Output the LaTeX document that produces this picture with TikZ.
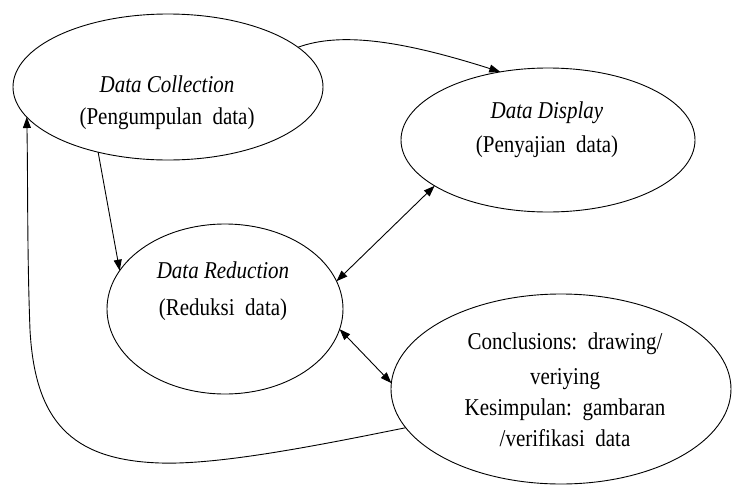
\documentclass[tikz,border=0pt]{standalone}
\usepackage{fontspec}
\setmainfont{Liberation Serif}
\usetikzlibrary{shapes.geometric,arrows.meta}
% slightly tall lettering used in the labels
\newcommand\tallword[1]{\scalebox{1}[1.15]{#1}}
\begin{document}
\begin{tikzpicture}[x=1pt,y=-1pt,
  stage/.style={ellipse,draw,line width=0.9pt,inner sep=0pt,outer sep=0pt},
  txt/.style={anchor=base,inner sep=0pt,font=\fontsize{21}{32}\selectfont},
  flow/.style={line width=0.9pt,-{Triangle[length=11pt,width=8pt]}},
  both/.style={line width=0.9pt,{Triangle[length=11pt,width=8pt]}-{Triangle[length=11pt,width=8pt]}}]
\useasboundingbox (0,0) rectangle (732,485);

% the four stages of the analysis
\node[stage,minimum width=310pt,minimum height=146pt] (collect) at (168,87) {};
\node[stage,minimum width=294pt,minimum height=144pt] (display) at (548,140) {};
\node[stage,minimum width=236pt,minimum height=170pt] (reduce) at (225,309) {};
\node[stage,minimum width=340pt,minimum height=190pt] (concl) at (561,389) {};

% labels
\node[txt] (c1) at (167,92) {\tallword{\itshape Data Collection}};
\node[txt] (c2) at (167,124) {\tallword{(Pengumpulan\ \ data)}};
\node[txt] (d1) at (547,118) {\tallword{\itshape Data Display}};
\node[txt] (d2) at (547,152) {\tallword{(Penyajian\ \ data)}};
\node[txt] (r1) at (223,278) {\tallword{\itshape Data Reduction}};
\node[txt] (r2) at (223,315) {\tallword{(Reduksi\ \ data)}};
\node[txt] (k1) at (565,349) {\tallword{Conclusions:\ \ drawing/}};
\node[txt] (k2) at (565,384) {\tallword{veriying}};
\node[txt] (k3) at (565,415) {\tallword{Kesimpulan:\ \ gambaran}};
\node[txt] (k4) at (565,446) {\tallword{/verifikasi\ \ data}};

% connectors
\draw[flow] (collect.17) .. controls (340,32) and (400,40) .. (display.125);
\draw[flow] (collect.223) -- (reduce.160);
\draw[both] (display.202) -- (reduce.14);
\draw[both] (reduce.-10) -- (concl.178);
\draw[flow] (concl.194) .. controls (320,445) and (220,465) .. (160,463)
  .. controls (70,460) and (35,420) .. (30,330)
  .. controls (27,250) and (28,180) .. (collect.192);
\end{tikzpicture}
\end{document}
